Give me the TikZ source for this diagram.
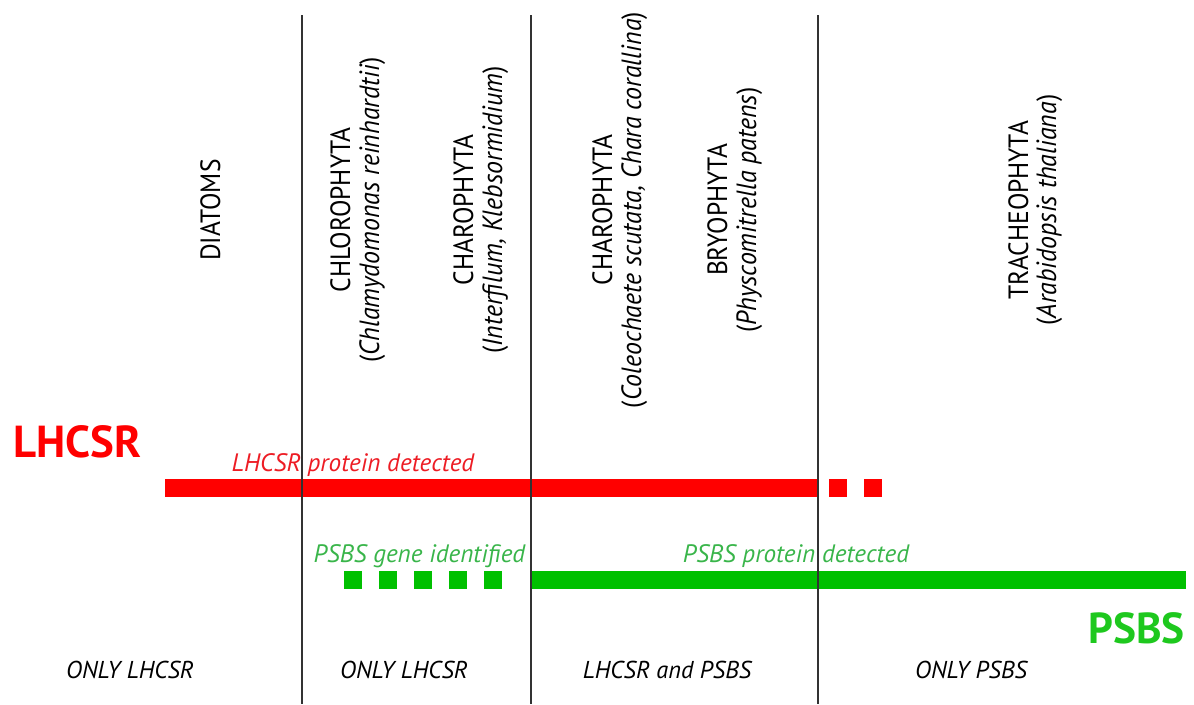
\documentclass[tikz,border=0pt]{standalone}
\usepackage{fontspec}
\setmainfont{PT Sans}
\newfontfamily\taxonfont{PT Sans}[FakeStretch=0.915]
\newfontfamily\speciesfont{PT Sans}[FakeStretch=0.93]
\definecolor{barred}{RGB}{255,0,0}
\definecolor{txtred}{RGB}{237,28,36}
\definecolor{bargreen}{RGB}{0,192,0}
\definecolor{txtgreen}{RGB}{57,181,74}
\definecolor{biggreen}{RGB}{30,200,30}
\definecolor{divider}{RGB}{50,50,50}
\begin{document}
\begin{tikzpicture}[x=0.75pt,y=-0.75pt,
  divline/.style={draw=divider,line width=1.1pt},
  taxon/.style={rotate=90,anchor=base,inner sep=0pt,font={\taxonfont\fontsize{20.9pt}{25pt}\selectfont}},
  species/.style={rotate=90,anchor=base,inner sep=0pt,font={\speciesfont\fontsize{20.9pt}{25pt}\selectfont}},
  zone/.style={anchor=base,inner sep=0pt,font={\itshape\fontsize{18.3pt}{21pt}\selectfont}},
  note/.style={anchor=base,inner sep=0pt,font={\itshape\fontsize{18.9pt}{22pt}\selectfont}},
  protein/.style={anchor=base,inner sep=0pt,font={\bfseries\fontsize{32.5pt}{36pt}\selectfont}},
  redbar/.style={fill=barred},
  greenbar/.style={fill=bargreen}]
\useasboundingbox (0,0) rectangle (1194,704);

% LHCSR presence bar
\fill[redbar] (165,479) rectangle (818,497);
\fill[redbar] (829,479) rectangle (847,497);
\fill[redbar] (864,479) rectangle (882,497);

% PSBS presence bar
\foreach \x in {344,379,414,449,484}
  \fill[greenbar] (\x,571) rectangle ++(18,18);
\fill[greenbar] (531,571) rectangle (1186,589);

% big protein names
\node[protein,anchor=base west,text=barred,font={\bfseries\fontsize{33.6pt}{36pt}\selectfont}] (lhcsr) at (13,457) {LHCSR};
\node[protein,anchor=base east,text=biggreen] (psbs) at (1185,643) {PSBS};

% bar annotations
\node[note,text=txtred] (lhcsrdet) at (353,471) {LHCSR protein detected};
\node[note,text=txtgreen] (psbsgene) at (419.5,562) {PSBS gene identified};
\node[note,text=txtgreen] (psbsdet) at (796,562) {PSBS protein detected};

% taxa
\node[taxon] (diatoms) at (220,210) {DIATOMS};
\node[taxon] (chloro) at (350,210) {CHLOROPHYTA};
\node[species] (chlamy) at (379,210) {(\textit{Chlamydomonas reinhardtii})};
\node[taxon] (charoA) at (473,210) {CHAROPHYTA};
\node[species] (interf) at (502,210) {(\textit{Interfilum, Klebsormidium})};
\node[taxon] (charoB) at (612,210) {CHAROPHYTA};
\node[species] (coleo) at (641,210) {(\textit{Coleochaete scutata, Chara corallina})};
\node[taxon] (bryo) at (727,210) {BRYOPHYTA};
\node[species] (physco) at (756,210) {(\textit{Physcomitrella patens})};
\node[taxon] (trach) at (1028,210) {TRACHEOPHYTA};
\node[species] (arab) at (1056,210) {(\textit{Arabidopsis thaliana})};

% zone summaries
\node[zone] (zoneA) at (130,678) {ONLY LHCSR};
\node[zone] (zoneB) at (404,678) {ONLY LHCSR};
\node[zone] (zoneC) at (667,678) {LHCSR and PSBS};
\node[zone] (zoneD) at (971,678) {ONLY PSBS};

% zone dividers
\foreach \x/\n in {302/a,531/b,818/c} {
  \coordinate (top\n) at (\x,15);
  \coordinate (bot\n) at (\x,704);
  \draw[divline] (top\n) -- (bot\n);
}
\end{tikzpicture}
\end{document}
